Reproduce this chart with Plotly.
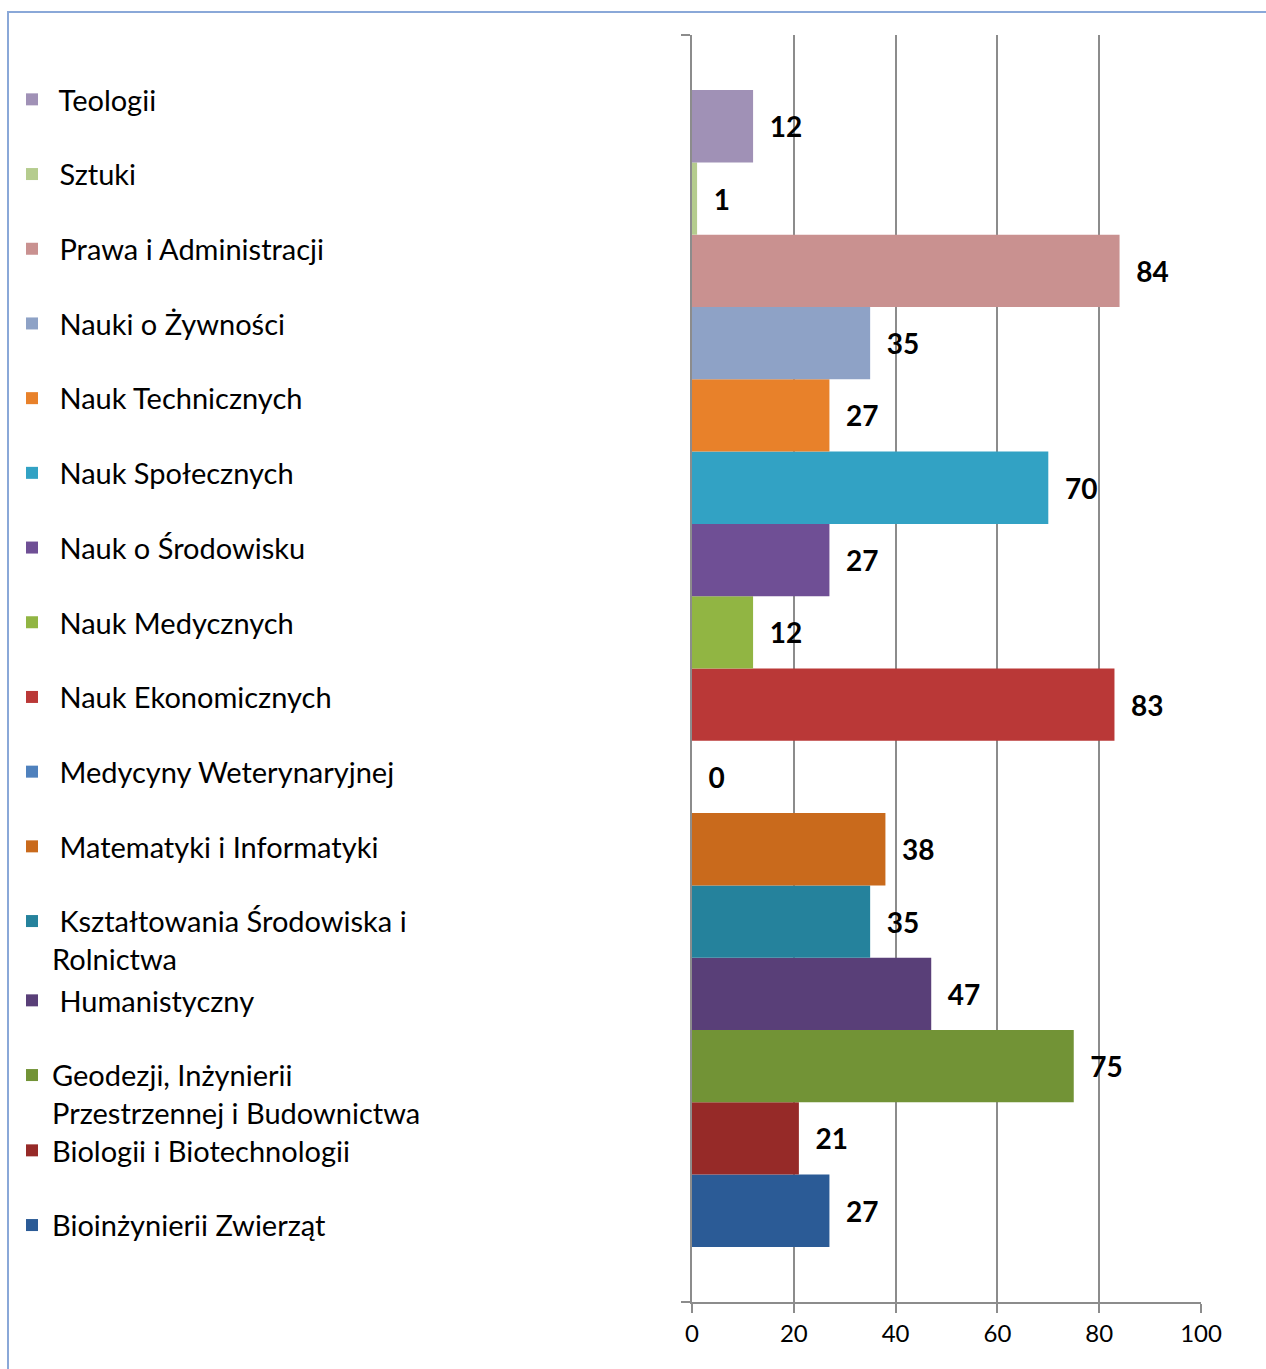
import plotly.graph_objects as go

# Data (ordered bottom -> top, as drawn)
categories = [
    "Bioinżynierii Zwierząt",
    "Biologii i Biotechnologii",
    "Geodezji, Inżynierii Przestrzennej i Budownictwa",
    "Humanistyczny",
    "Kształtowania Środowiska i Rolnictwa",
    "Matematyki i Informatyki",
    "Medycyny Weterynaryjnej",
    "Nauk Ekonomicznych",
    "Nauk Medycznych",
    "Nauk o Środowisku",
    "Nauk Społecznych",
    "Nauk Technicznych",
    "Nauki o Żywności",
    "Prawa i Administracji",
    "Sztuki",
    "Teologii",
]
legend_labels = [
    "Bioinżynierii Zwierząt",
    "Biologii i Biotechnologii",
    "Geodezji, Inżynierii<br>Przestrzennej i Budownictwa",
    "\u00a0Humanistyczny",
    "\u00a0Kształtowania Środowiska i<br>Rolnictwa",
    "\u00a0Matematyki i Informatyki",
    "\u00a0Medycyny Weterynaryjnej",
    "\u00a0Nauk Ekonomicznych",
    "\u00a0Nauk Medycznych",
    "\u00a0Nauk o Środowisku",
    "\u00a0Nauk Społecznych",
    "\u00a0Nauk Technicznych",
    "\u00a0Nauki o Żywności",
    "\u00a0Prawa i Administracji",
    "\u00a0Sztuki",
    "\u00a0Teologii",
]
values = [27, 21, 75, 47, 35, 38, 0, 83, 12, 27, 70, 27, 35, 84, 1, 12]
colors = [
    "#2B5B96", "#962A28", "#729336", "#593F78", "#25829C", "#C96A1C",
    "#4F81BD", "#BA3837", "#91B543", "#6F4F95", "#32A2C4", "#E8812A",
    "#8EA2C6", "#C99190", "#B5CC8E", "#A091B6",
]
legend_ids = ["legend3", "legend3", "legend2", "legend2"] + ["legend"] * 12
x_ticks = [0, 20, 40, 60, 80, 100]
group = ["Wydział"]

FONT = "Lato, Calibri, Carlito, sans-serif"

fig = go.Figure()
n = len(categories)
for i, name in enumerate(categories):
    fig.add_trace(go.Bar(
        x=[values[i]],
        y=group,
        orientation="h",
        name=legend_labels[i],
        legendgroup=name,
        legendrank=n - i,
        legend=legend_ids[i],
        marker=dict(color=colors[i], line=dict(width=0)),
        text=[values[i]],
        texttemplate="\u00a0\u00a0%{text}",
        textposition="outside",
        textfont=dict(family=FONT, size=28, color="black", weight="bold"),
        constraintext="none",
        cliponaxis=False,
        hovertemplate=name + ": %{x}<extra></extra>",
    ))

L, R, T, B = 692, 1201, 35, 1302
W, H = 1266, 1369

def py(p):
    return (B - p) / (B - T)

def px(p):
    return (p - L) / (R - L)

legend_common = dict(
    xanchor="left", yanchor="top",
    traceorder="grouped",
    tracegroupgap=34,
    font=dict(family=FONT, size=29, color="black"),
    bgcolor="rgba(0,0,0,0)",
    valign="top",
    itemclick=False, itemdoubleclick=False,
)

fig.update_layout(
    width=W, height=H,
    margin=dict(l=L, r=W - R, t=T, b=H - B, pad=0),
    paper_bgcolor="white",
    plot_bgcolor="white",
    barmode="group",
    bargap=0.087,
    bargroupgap=0,
    font=dict(family=FONT, color="black"),
    showlegend=True,
    legend=dict(x=px(12), y=py(74), **legend_common),
    legend2=dict(x=px(12), y=py(975), **legend_common),
    legend3=dict(x=px(12), y=py(1125), **legend_common),
    xaxis=dict(
        range=[0, 100],
        tickvals=x_ticks,
        ticktext=[str(v) for v in x_ticks],
        showgrid=True, gridcolor="#8C8C8C", gridwidth=2,
        showline=True, linecolor="#8C8C8C", linewidth=2,
        ticks="outside", ticklen=9, tickwidth=2, tickcolor="#8C8C8C",
        tickfont=dict(family=FONT, size=24, color="black"),
        zeroline=False,
        fixedrange=True,
    ),
    yaxis=dict(
        type="category",
        showticklabels=False,
        showgrid=False,
        showline=True, linecolor="#8C8C8C", linewidth=2,
        ticks="outside", tickson="boundaries", ticklen=9, tickwidth=2,
        tickcolor="#8C8C8C",
        zeroline=False,
        fixedrange=True,
    ),
    shapes=[dict(
        type="rect", xref="paper", yref="paper",
        x0=px(8), x1=px(1275), y0=py(1380), y1=py(12),
        line=dict(color="#8AA8D8", width=2),
        fillcolor="rgba(0,0,0,0)", layer="below",
    )],
)

fig.write_html("out.html", config={"displayModeBar": False},
               post_script="document.body.style.margin='0px';")
